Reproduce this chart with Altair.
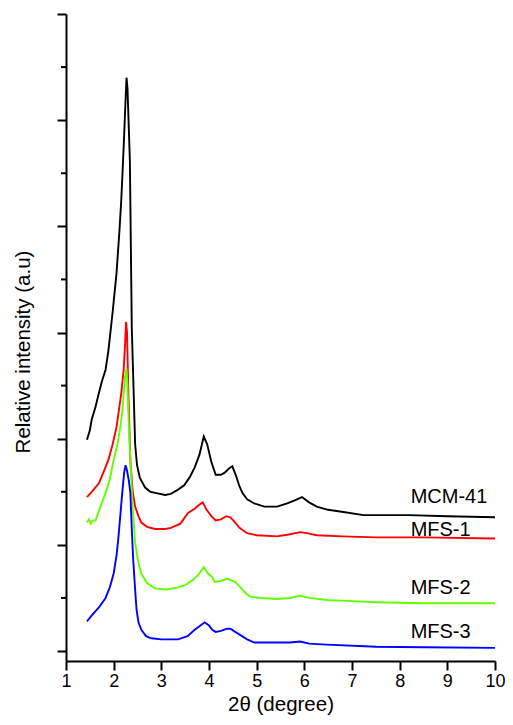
import altair as alt
import pandas as pd

# ---- data ----
series = ["MCM-41", "MFS-1", "MFS-2", "MFS-3"]
colors = ["#000000", "#ff0000", "#62ff00", "#0000ff"]

mcm_x = [1.44, 1.50, 1.54, 1.62, 1.69, 1.76, 1.83, 1.89, 1.98, 2.06, 2.12, 2.16, 2.21, 2.25, 2.27,
         2.29, 2.34, 2.38, 2.40, 2.43, 2.45, 2.49, 2.55, 2.66, 2.77, 2.87, 3.08, 3.20, 3.35, 3.48,
         3.60, 3.70, 3.80, 3.89, 3.96, 4.05, 4.14, 4.25, 4.33, 4.42, 4.49, 4.56, 4.64, 4.70, 4.80,
         4.95, 5.16, 5.43, 5.64, 5.80, 5.95, 6.10, 6.26, 6.50, 6.82, 7.24, 7.80, 8.19, 9.00, 10.0]
mcm_y = [1.99, 2.08, 2.18, 2.30, 2.43, 2.55, 2.65, 2.83, 3.20, 3.56, 3.95, 4.25, 4.75, 5.20, 5.40,
         5.30, 4.62, 3.05, 2.74, 2.27, 1.95, 1.75, 1.63, 1.54, 1.50, 1.49, 1.47, 1.48, 1.52, 1.56,
         1.64, 1.73, 1.85, 2.02, 1.95, 1.78, 1.66, 1.66, 1.68, 1.72, 1.74, 1.66, 1.55, 1.49, 1.43,
         1.39, 1.36, 1.36, 1.39, 1.42, 1.45, 1.40, 1.36, 1.33, 1.31, 1.28, 1.28, 1.28, 1.27, 1.26]

mfs1_x = [1.44, 1.54, 1.69, 1.80, 1.89, 1.98, 2.06, 2.12, 2.16, 2.21, 2.24, 2.26, 2.28, 2.31, 2.35,
          2.40, 2.45, 2.52, 2.58, 2.70, 2.87, 3.08, 3.20, 3.40, 3.56, 3.70, 3.80, 3.87, 3.95, 4.05,
          4.14, 4.25, 4.36, 4.45, 4.55, 4.64, 4.80, 5.00, 5.43, 5.70, 5.91, 6.05, 6.26, 6.80, 7.51,
          8.50, 10.0]
mfs1_y = [1.45, 1.50, 1.58, 1.70, 1.80, 1.95, 2.11, 2.30, 2.43, 2.65, 2.90, 3.10, 3.00, 2.40, 1.80,
          1.50, 1.36, 1.27, 1.21, 1.17, 1.15, 1.15, 1.16, 1.20, 1.30, 1.34, 1.38, 1.40, 1.33, 1.27,
          1.23, 1.24, 1.27, 1.26, 1.21, 1.16, 1.11, 1.09, 1.08, 1.10, 1.12, 1.11, 1.09, 1.08, 1.07,
          1.07, 1.06]

mfs2_x = [1.44, 1.48, 1.52, 1.56, 1.62, 1.70, 1.83, 1.92, 2.00, 2.08, 2.14, 2.18, 2.21, 2.24, 2.27,
          2.29, 2.32, 2.35, 2.40, 2.45, 2.52, 2.58, 2.70, 2.87, 3.10, 3.35, 3.50, 3.66, 3.78, 3.89,
          3.98, 4.06, 4.12, 4.25, 4.38, 4.45, 4.55, 4.66, 4.78, 4.87, 5.10, 5.43, 5.70, 5.91, 6.10,
          6.47, 7.00, 7.51, 8.50, 10.0]
mfs2_y = [1.21, 1.24, 1.20, 1.23, 1.23, 1.33, 1.49, 1.62, 1.80, 1.95, 2.11, 2.25, 2.43, 2.58, 2.66,
          2.50, 2.10, 1.80, 1.35, 1.02, 0.83, 0.73, 0.64, 0.59, 0.58, 0.60, 0.62, 0.67, 0.72, 0.79,
          0.73, 0.70, 0.65, 0.66, 0.68, 0.67, 0.65, 0.60, 0.54, 0.51, 0.50, 0.49, 0.50, 0.52, 0.50,
          0.48, 0.47, 0.46, 0.45, 0.45]

mfs3_x = [1.44, 1.55, 1.69, 1.83, 1.92, 2.00, 2.06, 2.10, 2.14, 2.18, 2.22, 2.25, 2.28, 2.32, 2.35,
          2.38, 2.41, 2.45, 2.48, 2.52, 2.58, 2.68, 2.79, 3.00, 3.35, 3.55, 3.70, 3.82, 3.91, 4.00,
          4.07, 4.14, 4.25, 4.38, 4.45, 4.55, 4.66, 4.80, 4.95, 5.43, 5.70, 5.91, 6.10, 6.47, 7.51,
          8.50, 10.0]
mfs3_y = [0.28, 0.34, 0.41, 0.50, 0.60, 0.73, 0.90, 1.07, 1.28, 1.49, 1.68, 1.75, 1.70, 1.60, 1.49,
          1.15, 0.86, 0.58, 0.39, 0.27, 0.20, 0.14, 0.12, 0.11, 0.11, 0.14, 0.20, 0.24, 0.27, 0.24,
          0.20, 0.18, 0.19, 0.21, 0.21, 0.18, 0.15, 0.11, 0.08, 0.08, 0.08, 0.09, 0.07, 0.06, 0.04,
          0.035, 0.03]

label_x = [8.23, 8.23, 8.23, 8.23]
label_y = [1.394, 1.083, 0.537, 0.122]

major_ticks = [0, 1, 2, 3, 4, 5, 6]
minor_ticks = [0.5, 1.5, 2.5, 3.5, 4.5, 5.5]
x_ticks = [1, 2, 3, 4, 5, 6, 7, 8, 9, 10]

# ---- tables ----
rows = []
for name, xs, ys in zip(series, [mcm_x, mfs1_x, mfs2_x, mfs3_x], [mcm_y, mfs1_y, mfs2_y, mfs3_y]):
    for i, (a, b) in enumerate(zip(xs, ys)):
        rows.append({"s": name, "x": a, "y": b, "o": i})
df = pd.DataFrame(rows)
labels_df = pd.DataFrame({"s": series, "x": label_x, "y": label_y})
minor_df = pd.DataFrame({"y": minor_ticks})

FONT = "Liberation Sans"
W, H = 429, 647
xscale = alt.Scale(domain=[1, 10], nice=False, zero=False)
yscale = alt.Scale(domain=[-0.094, 6.0], nice=False, zero=False)

lines = alt.Chart(df).mark_line(strokeWidth=1.9, clip=True).encode(
    x=alt.X("x:Q", scale=xscale,
            axis=alt.Axis(title="2θ (degree)", values=x_ticks, format="d", grid=False,
                          tickSize=9, tickWidth=2, tickColor="black", domainWidth=2,
                          domainColor="black", labelFontSize=18, labelFont=FONT,
                          labelColor="black", labelPadding=2, titleFont=FONT,
                          titleFontSize=20.5, titleFontWeight="normal", titleColor="black",
                          titleBaseline="alphabetic", titleY=49, titleX=W / 2,
                          labelFlush=False)),
    y=alt.Y("y:Q", scale=yscale,
            axis=alt.Axis(title="Relative intensity (a.u)", values=major_ticks, labels=False,
                          grid=False, tickSize=9, tickWidth=2, tickColor="black",
                          domainWidth=2, domainColor="black", titleFont=FONT,
                          titleFontSize=20.5, titleFontWeight="normal", titleColor="black",
                          titleBaseline="alphabetic", titleX=-37, titleY=H / 2 + 14)),
    color=alt.Color("s:N", scale=alt.Scale(domain=series, range=colors), legend=None),
    order="o:Q",
)

minor = alt.Chart(minor_df).mark_rule(color="black", strokeWidth=2).encode(
    y=alt.Y("y:Q", scale=yscale),
    x=alt.value(-5),
    x2=alt.value(0),
)

texts = alt.Chart(labels_df).mark_text(align="left", baseline="alphabetic", font=FONT,
                                       fontSize=20, color="black").encode(
    x=alt.X("x:Q", scale=xscale),
    y=alt.Y("y:Q", scale=yscale),
    text="s:N",
)

chart = alt.layer(lines, minor, texts).properties(
    width=W, height=H,
    autosize=alt.AutoSizeParams(type="none"),
    padding={"left": 58, "top": 6, "right": 10, "bottom": 55},
).configure_view(stroke=None)

chart.save("out.html", embed_options={"renderer": "svg", "actions": False})
